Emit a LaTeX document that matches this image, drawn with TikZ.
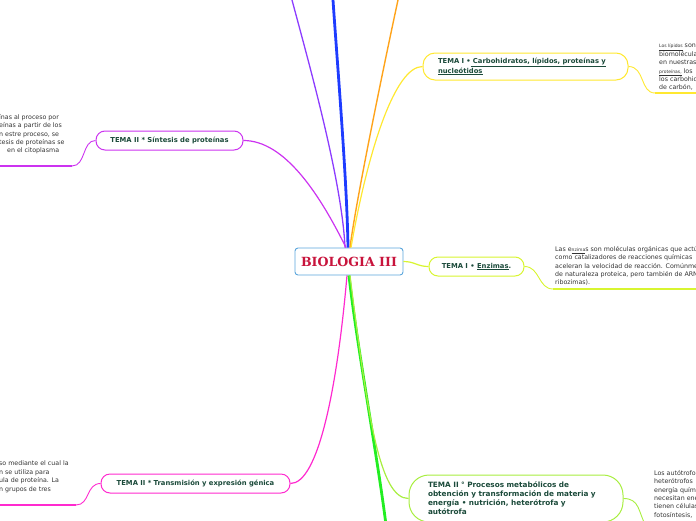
\documentclass[tikz,border=0pt]{standalone}
\usepackage{fontspec}
\setmainfont{DejaVu Sans}
\newfontfamily\titlefont{DejaVu Serif}

\definecolor{temaText}{HTML}{1B4A3A}
\definecolor{notaText}{HTML}{333333}
\definecolor{bioBorde}{HTML}{5AA5DC}
\definecolor{bioText}{HTML}{C8143C}
\definecolor{violeta}{HTML}{8C3CFF}
\definecolor{azul}{HTML}{1E3CFF}
\definecolor{naranja}{HTML}{FFA31A}
\definecolor{amarillo}{HTML}{FFE830}
\definecolor{magenta}{HTML}{CC33F0}
\definecolor{limon}{HTML}{D8F530}
\definecolor{rosa}{HTML}{FF2ACF}
\definecolor{verde}{HTML}{22EE22}
\definecolor{verdeClaro}{HTML}{A8EE40}

\newcommand{\lnk}[1]{\underline{\fontsize{4.5}{5}\selectfont #1}}

\begin{document}
\begin{tikzpicture}[x=1pt, y=-1pt,
    tema/.style={draw, line width=1pt, fill=white, text=temaText,
      font=\bfseries\fontsize{6.8}{8.5}\selectfont, inner xsep=0pt},
    nota/.style={anchor=north west, align=left, inner sep=0pt, text=notaText,
      font=\fontsize{6.3}{8.4}\selectfont},
    enlace/.style={line width=0.9pt},
    subrayado/.style={line width=1.8pt}]
    \useasboundingbox (0,0) rectangle (696,520);
    \clip (0,0) rectangle (696,520);

    % nodo central
    \node[draw=bioBorde, line width=0.9pt, rounded corners=3pt, fill=white,
      minimum width=108pt, minimum height=27pt, text=bioText,
      font=\titlefont\bfseries\fontsize{12.6}{14}\selectfont] (bio) at (349,261.5) {BIOLOGIA III};

    % temas
    \node[tema, draw=amarillo, rounded corners=12pt, minimum width=205pt, minimum height=27pt,
      text width=175pt, align=left] (carb) at (525.5,66.5)
      {TEMA I •\underline{ Carbohidratos, lípidos, proteínas y}\\\underline{nucleótidos}};
    \node[tema, draw=magenta, rounded corners=9pt, minimum width=147pt, minimum height=19pt] (sint) at (169.5,140.5)
      {TEMA II * Síntesis de proteínas};
    \node[tema, draw=limon, rounded corners=9pt, minimum width=95pt, minimum height=19pt] (enz) at (476.5,266.5)
      {TEMA I • \underline{Enzimas}.};
    \node[tema, draw=rosa, rounded corners=9pt, minimum width=189pt, minimum height=19pt] (trans) at (195.5,483.5)
      {TEMA II * Transmisión y expresión génica};
    \node[tema, draw=verdeClaro, rounded corners=20pt, minimum width=214pt, minimum height=47pt,
      text width=176pt, align=left, font=\bfseries\fontsize{7.3}{9}\selectfont] (proc) at (516,498.5)
      {TEMA II ° Procesos metabólicos de\\obtención y transformación de materia y\\energía • nutrición, heterótrofa y\\autótrofa};

    % notas
    \node[nota] (notaLip) at (659,44)
      {\lnk{Los lípidos} son\\biomoléculas\\en nuestras\\\lnk{proteínas,} los\\los carbohidratos\\de carbón,};
    \node[nota] (notaSint) at (-1,114)
      {ínas al proceso por\\eínas a partir de los\\n estre proceso, se\\tesis de proteínas se\\\hspace*{8pt}en el citoplasma};
    \node[nota] (notaEnz) at (555,246)
      {Las e\lnk{nzima}s son moléculas orgánicas que actúan\\como catalizadores de reacciones químicas\\aceleran la velocidad de reacción. Comúnmente\\de naturaleza proteica, pero también de ARN\\ribozimas).};
    \node[nota] (notaTrans) at (-1,461)
      {so mediante el cual la\\n se utiliza para\\ula de proteína. La\\n grupos de tres};
    \node[nota] (notaProc) at (654,470)
      {Los autótrofos\\heterótrofos\\energía química\\necesitan energía\\tienen células\\fotosíntesis,};

    % extremos libres
    \coordinate (finVioleta) at (292,0);
    \coordinate (finAzul) at (333,0);
    \coordinate (finNaranja) at (398,0);
    \coordinate (finVerde) at (386,525);
    \coordinate (lipA) at (655,93);
    \coordinate (lipB) at (700,93);
    \coordinate (sintA) at (72,166);
    \coordinate (sintB) at (-5,166);
    \coordinate (enzA) at (553,289);
    \coordinate (enzB) at (700,289);
    \coordinate (transA) at (76,505);
    \coordinate (transB) at (-5,505);
    \coordinate (procA) at (646,526);

    % ramas hacia arriba
    \draw[violeta, line width=1.3pt] ([xshift=-4pt]bio.north) .. controls (342,180) and (308,60) .. (finVioleta);
    \draw[azul, line width=2.8pt] ([xshift=-1pt]bio.north) .. controls (347,180) and (337,60) .. (finAzul);
    \draw[naranja, line width=1.4pt] ([xshift=1pt]bio.north) .. controls (356,200) and (385,60) .. (finNaranja);
    \draw[amarillo, line width=1.2pt] ([xshift=2pt]bio.north) .. controls (368,150) and (395,66.5) .. (carb.west);
    \draw[magenta, line width=1.2pt] ([xshift=-3pt]bio.north) .. controls (320,195) and (285,140.5) .. (sint.east);

    % rama derecha
    \draw[limon, line width=1.2pt] (bio.east) .. controls (415,261.5) and (417,266.5) .. (enz.west);

    % ramas hacia abajo
    \draw[rosa, line width=1.2pt] ([xshift=-2pt]bio.south) .. controls (337,390) and (318,483.5) .. (trans.east);
    \draw[verde, line width=2.8pt] ([xshift=0pt]bio.south) .. controls (356,340) and (378,460) .. (finVerde);
    \draw[verdeClaro, line width=1.2pt] ([xshift=1pt]bio.south) .. controls (368,420) and (380,498.5) .. (proc.west);

    % enlaces a las notas
    \draw[amarillo, enlace] (carb.east) .. controls (645,66.5) and (640,93) .. (lipA);
    \draw[amarillo, subrayado] (lipA) -- (lipB);
    \draw[magenta, enlace] (sint.west) .. controls (82,140.5) and (86,166) .. (sintA);
    \draw[magenta, subrayado] (sintA) -- (sintB);
    \draw[limon, enlace] (enz.east) .. controls (540,266.5) and (538,289) .. (enzA);
    \draw[limon, subrayado] (enzA) -- (enzB);
    \draw[rosa, enlace] (trans.west) .. controls (86,483.5) and (90,505) .. (transA);
    \draw[rosa, subrayado] (transA) -- (transB);
    \draw[verdeClaro, enlace] (proc.east) .. controls (640,498.5) and (638,512) .. (procA);
\end{tikzpicture}
\end{document}
